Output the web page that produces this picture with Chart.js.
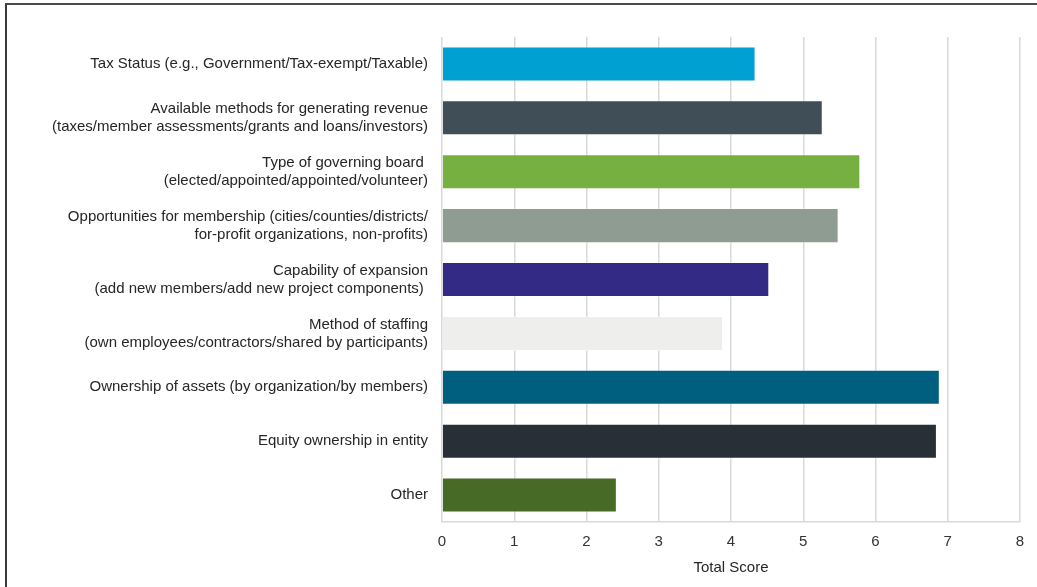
<!DOCTYPE html>
<html>
<head>
<meta charset="utf-8">
<script src="https://cdn.jsdelivr.net/npm/chart.js@4"></script>
<style>
  html, body { margin: 0; padding: 0; background: #fff; }
  #wrap { position: relative; width: 1037px; height: 587px; }
  #frame { position: absolute; left: 5px; top: 3px; width: 1100px; height: 700px;
           border-top: 2px solid #4a4a4a; border-left: 2px solid #3a3a3a; }
  canvas { position: absolute; left: 0; top: 0; }
</style>
</head>
<body>
<div id="wrap">
  <div id="frame"></div>
  <canvas id="chart" width="1037" height="587"></canvas>
</div>
<script>
const categories = [
  ["Tax Status (e.g., Government/Tax-exempt/Taxable)"],
  ["Available methods for generating revenue", "(taxes/member assessments/grants and loans/investors)"],
  ["Type of governing board ", "(elected/appointed/appointed/volunteer)"],
  ["Opportunities for membership (cities/counties/districts/", "for-profit organizations, non-profits)"],
  ["Capability of expansion", "(add new members/add new project components) "],
  ["Method of staffing", "(own employees/contractors/shared by participants)"],
  ["Ownership of assets (by organization/by members)"],
  ["Equity ownership in entity"],
  ["Other"]
];
const scores = [4.34, 5.27, 5.79, 5.49, 4.53, 3.89, 6.89, 6.85, 2.42];
const barColors = ["#00a0d2", "#404e58", "#76b041", "#8f9c91", "#332a85",
                   "#eeeeed", "#005e7e", "#292f36", "#486a27"];
const xTicks = [0, 1, 2, 3, 4, 5, 6, 7, 8];

const font = "'Liberation Sans', Arial, sans-serif";

new Chart(document.getElementById('chart'), {
  type: 'bar',
  data: {
    labels: categories,
    datasets: [{
      label: 'Total Score',
      data: scores,
      backgroundColor: barColors,
      borderColor: 'rgba(255,255,255,0.35)',
      borderWidth: 1,
      barPercentage: 0.65,
      categoryPercentage: 1
    }]
  },
  options: {
    indexAxis: 'y',
    responsive: false,
    animation: false,
    layout: { padding: { top: 37, right: 17, bottom: 0, left: 0 } },
    plugins: {
      legend: { display: false },
      tooltip: { enabled: false }
    },
    scales: {
      x: {
        min: xTicks[0],
        max: xTicks[xTicks.length - 1],
        afterBuildTicks: s => { s.ticks = xTicks.map(v => ({ value: v })); },
        grid: { color: '#d9d9d9', lineWidth: 1.5, drawTicks: false },
        border: { display: true, color: '#d9d9d9', width: 1.5 },
        ticks: { color: '#333', padding: 11, font: { family: font, size: 15 } },
        title: { display: true, text: 'Total Score', color: '#262626',
                 padding: { top: 4, bottom: 10 }, font: { family: font, size: 15 } },
        afterFit: s => { s.height = 65; }
      },
      y: {
        grid: { display: false, drawTicks: false },
        border: { display: false },
        ticks: { color: '#262626', padding: 14, font: { family: font, size: 15, lineHeight: 1.2 } },
        afterFit: s => { s.width = 442; }
      }
    }
  }
});
</script>
</body>
</html>
